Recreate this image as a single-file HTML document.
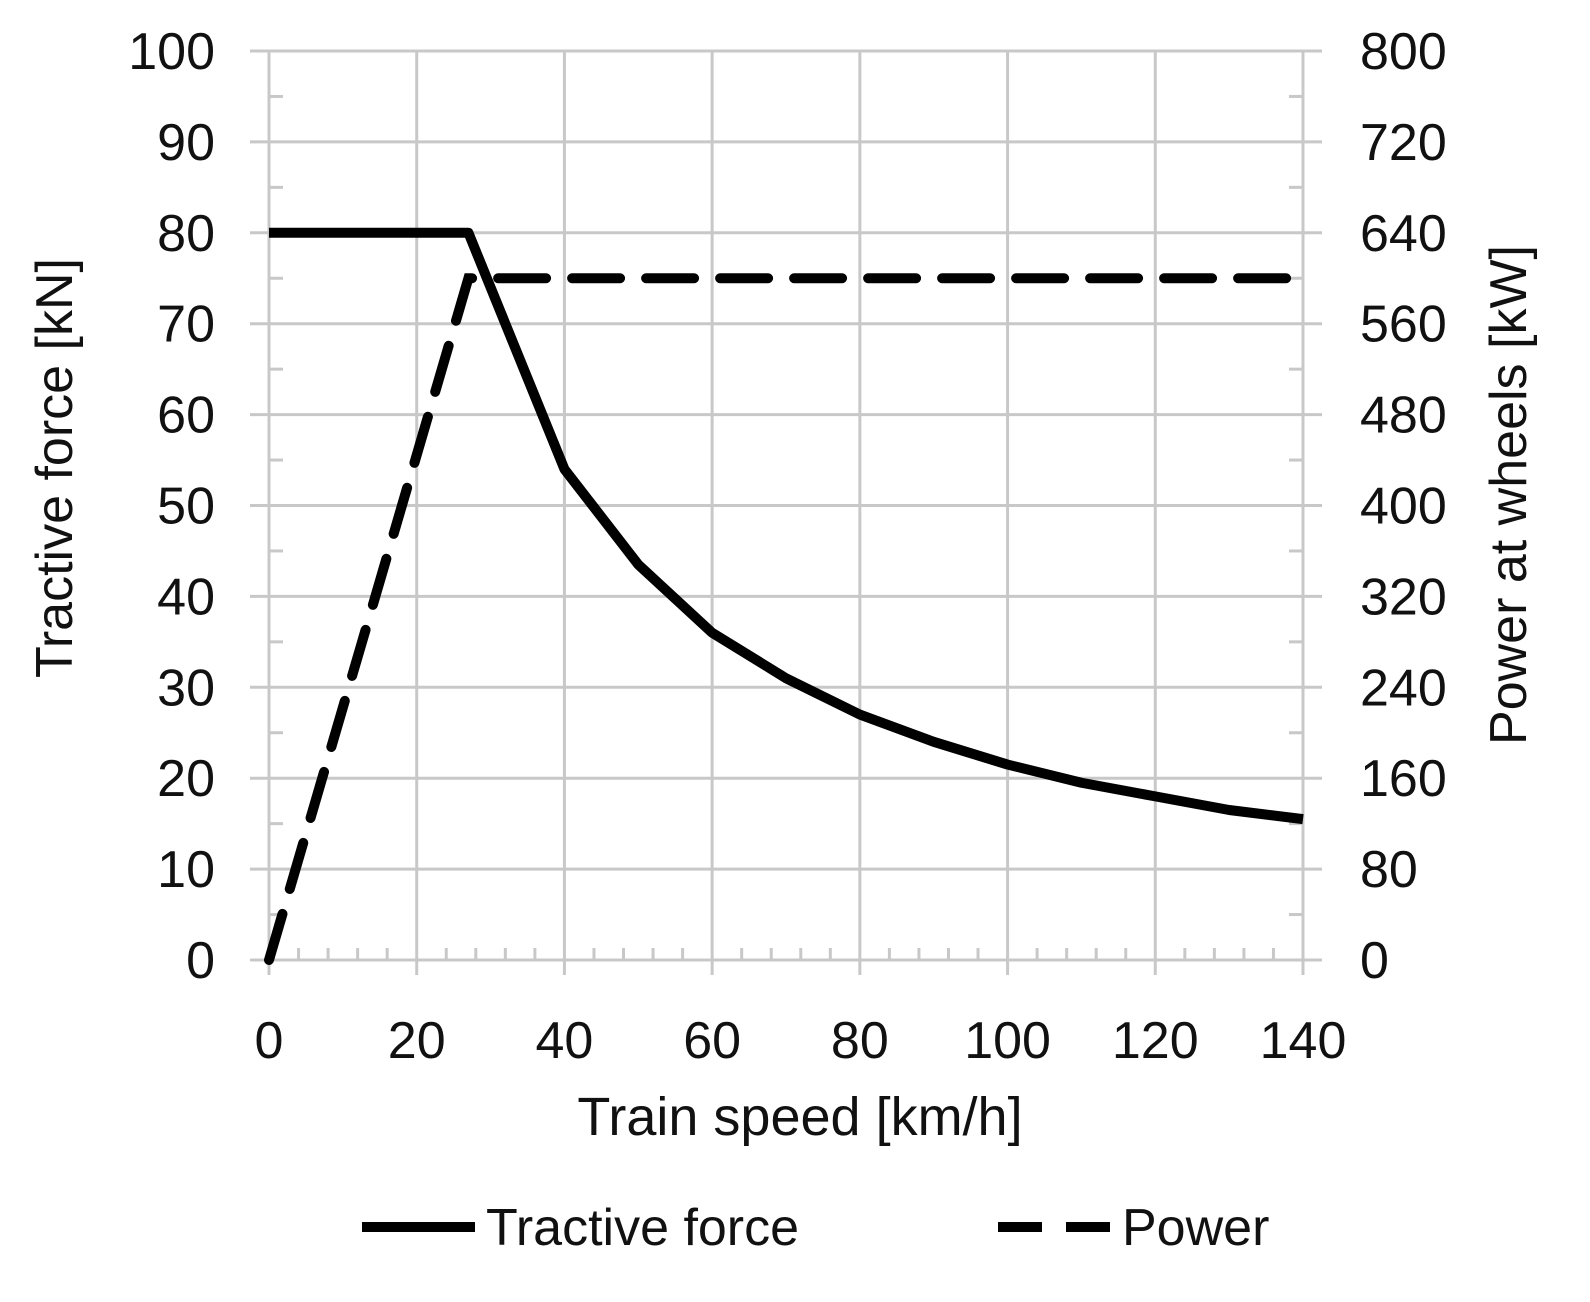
<!DOCTYPE html>
<html><head><meta charset="utf-8"><style>
body{margin:0;background:#fff}
svg text{font-family:"Liberation Sans",sans-serif;fill:#111}
</style></head><body>
<svg width="1590" height="1297" xmlns="http://www.w3.org/2000/svg">
<g id="grid"></g>
<g id="marks"></g>
<g id="labels"></g>
<text x="800" y="1135" font-size="54" text-anchor="middle">Train speed [km/h]</text>
<text transform="translate(72,468) rotate(-90)" font-size="52" text-anchor="middle">Tractive force [kN]</text>
<text transform="translate(1526,495) rotate(-90)" font-size="52" text-anchor="middle">Power at wheels [kW]</text>
<g>
<line x1="362" y1="1227" x2="475" y2="1227" stroke="#000" stroke-width="10"/>
<text x="486" y="1245" font-size="52">Tractive force</text></g>
<g>
<line x1="998" y1="1227" x2="1110" y2="1227" stroke="#000" stroke-width="10" stroke-dasharray="44,24"/>
<text x="1122" y="1245" font-size="52">Power</text></g>
<script>
const forceSpeeds=[0,27,40,50,60,70,80,90,100,110,120,130,140];
const forceValues=[80,80,54,43.5,36,31,27,24,21.5,19.5,18,16.5,15.5];
const powerSpeeds=[0,27,140];
const powerValues=[0,600,600];
const xTicks=[0,20,40,60,80,100,120,140];
const yTicks=[0,10,20,30,40,50,60,70,80,90,100];
const y2Ticks=[0,80,160,240,320,400,480,560,640,720,800];
const NS="http://www.w3.org/2000/svg";
const X=v=>269+v*(1303-269)/140;
const Y=v=>960-v*(960-51)/100;
const Y2=v=>Y(v/8);
function mk(parent,tag,attrs){const e=document.createElementNS(NS,tag);for(const k in attrs)e.setAttribute(k,attrs[k]);parent.appendChild(e);return e;}
const g=document.getElementById('grid'),m=document.getElementById('marks'),lb=document.getElementById('labels');
const gc="#c8c8c8";
for(let v=0;v<=140;v+=4){if(v%20===0)continue;const t=mk(g,'line',{x1:X(v),x2:X(v),y1:960,y2:948,stroke:gc,'stroke-width':3});

}
for(let v=5;v<100;v+=10){const t=mk(g,'line',{x1:269,x2:283,y1:Y(v),y2:Y(v),stroke:gc,'stroke-width':3});


const t2=mk(g,'line',{x1:1303,x2:1289,y1:Y(v),y2:Y(v),stroke:gc,'stroke-width':3});

}
xTicks.forEach(v=>{const l=mk(g,'line',{x1:X(v),x2:X(v),y1:51,y2:975,stroke:gc,'stroke-width':3});


const t=mk(lb,'text',{x:X(v),y:1058,'font-size':52,'text-anchor':'middle'});t.textContent=v;

});
yTicks.forEach(v=>{const l=mk(g,'line',{x1:250,x2:1322,y1:Y(v),y2:Y(v),stroke:gc,'stroke-width':3});


const t=mk(lb,'text',{x:215,y:Y(v)+18,'font-size':52,'text-anchor':'end'});t.textContent=v;

});
y2Ticks.forEach(v=>{const t=mk(lb,'text',{x:1360,y:Y2(v)+18,'font-size':52});t.textContent=v;

});
const fp=mk(m,'polyline',{points:forceSpeeds.map((s,i)=>X(s)+','+Y(forceValues[i])).join(' '),fill:'none',stroke:'#000','stroke-width':10,'stroke-linejoin':'round'});


const pp=mk(m,'polyline',{points:powerSpeeds.map((s,i)=>X(s)+','+Y2(powerValues[i])).join(' '),fill:'none',stroke:'#000','stroke-width':10,'stroke-dasharray':'48,26','stroke-linecap':'round'});


</script>
</svg>
</body></html>
